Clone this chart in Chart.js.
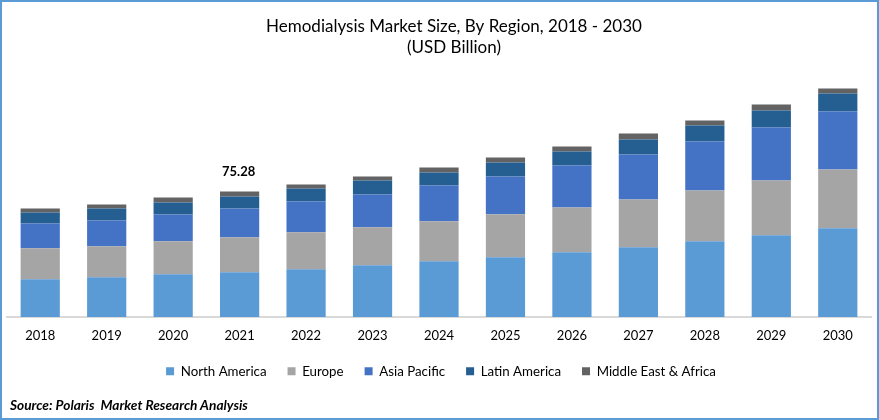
<!DOCTYPE html>
<html>
<head>
<meta charset="utf-8">
<title>Hemodialysis Market Size</title>
<script src="https://cdn.jsdelivr.net/npm/chart.js@4"></script>
<style>
  html, body { margin: 0; padding: 0; background: #fff; }
  #wrap { position: relative; width: 879px; height: 420px; overflow: hidden; }
  #frame { position: absolute; left: 0; top: 0; right: 0; bottom: 0; border: 2px solid #5B9BD5; pointer-events: none; }
  #source { position: absolute; left: 10px; top: 396px; font: italic bold 13.7px Lato, sans-serif; color: #000; white-space: pre; }
</style>
</head>
<body>
<div id="wrap">
  <canvas id="chart" width="879" height="420"></canvas>
  <div id="source">Source: Polaris  Market Research Analysis</div>
  <div id="frame"></div>
</div>
<script>
'use strict';

const years = ['2018', '2019', '2020', '2021', '2022', '2023', '2024', '2025', '2026', '2027', '2028', '2029', '2030'];
const northAmerica = [22.7, 23.9, 25.7, 26.9, 28.7, 31.1, 33.5, 35.9, 38.8, 41.8, 45.4, 49.0, 53.2];
const europe = [18.5, 18.5, 19.7, 20.9, 22.1, 22.7, 23.9, 25.7, 26.9, 28.7, 30.5, 32.9, 35.3];
const asiaPacific = [14.9, 15.5, 16.1, 17.3, 18.5, 19.7, 21.5, 22.7, 25.1, 26.9, 29.3, 31.7, 34.7];
const latinAmerica = [6.6, 7.2, 7.2, 7.2, 7.8, 8.4, 7.8, 8.4, 8.4, 9.0, 9.6, 10.2, 10.8];
const middleEastAfrica = [2.4, 2.4, 3.0, 2.98, 2.4, 2.4, 3.0, 3.0, 3.0, 3.6, 3.0, 3.6, 3.0];
const totalLabels = [null, null, null, '75.28', null, null, null, null, null, null, null, null, null];

const fontName = 'Lato, sans-serif';

// writes the one total that the picture shows, above its stack
const totalLabelPlugin = {
  id: 'totalLabel',
  afterDatasetsDraw(chart) {
    const ctx = chart.ctx;
    const topBars = chart.getDatasetMeta(chart.data.datasets.length - 1).data;
    ctx.save();
    ctx.font = 'bold 13px ' + fontName;
    ctx.fillStyle = '#000';
    ctx.textAlign = 'center';
    ctx.textBaseline = 'bottom';
    for (let i = 0; i < totalLabels.length; i++) {
      if (totalLabels[i]) {
        ctx.fillText(totalLabels[i], topBars[i].x - 1, topBars[i].y - 13);
      }
    }
    ctx.restore();
  }
};

// title and legend do not sit on the page centre in the picture
const nudgePlugin = {
  id: 'nudge',
  afterLayout(chart) {
    chart.titleBlock.left += 15;
    chart.titleBlock.right += 15;
    chart.legend.left += 2;
    chart.legend.right += 2;
    chart.legend.top -= 3;
  }
};

new Chart(document.getElementById('chart'), {
  type: 'bar',
  data: {
    labels: years,
    datasets: [
      { label: 'North America', data: northAmerica, backgroundColor: '#5B9BD5' },
      { label: 'Europe', data: europe, backgroundColor: '#A5A5A5' },
      { label: 'Asia Pacific', data: asiaPacific, backgroundColor: '#4472C4' },
      { label: 'Latin America', data: latinAmerica, backgroundColor: '#255E91' },
      { label: 'Middle East & Africa', data: middleEastAfrica, backgroundColor: '#636363' }
    ]
  },
  options: {
    responsive: false,
    animation: false,
    datasets: { bar: { barPercentage: 1, categoryPercentage: 0.59 } },
    layout: { padding: { left: 7, right: 8, top: 6, bottom: 29 } },
    scales: {
      x: {
        stacked: true,
        grid: { display: false },
        border: { color: '#D9D9D9', width: 2 },
        ticks: { color: '#000', font: { family: fontName, size: 13 }, padding: 3, maxRotation: 0 }
      },
      y: { stacked: true, display: false, min: 0, max: 140 }
    },
    plugins: {
      title: {
        display: true,
        text: ['Hemodialysis Market Size, By Region, 2018 - 2030', '(USD Billion)'],
        color: '#000',
        font: { family: fontName, size: 17, weight: 'normal', lineHeight: 1.25 },
        padding: { top: 10, bottom: 25 }
      },
      legend: {
        position: 'bottom',
        labels: {
          color: '#000',
          boxWidth: 8,
          boxHeight: 8,
          padding: 21,
          font: { family: fontName, size: 13.3 }
        }
      },
      tooltip: { enabled: false }
    }
  },
  plugins: [totalLabelPlugin, nudgePlugin]
});
</script>
</body>
</html>
